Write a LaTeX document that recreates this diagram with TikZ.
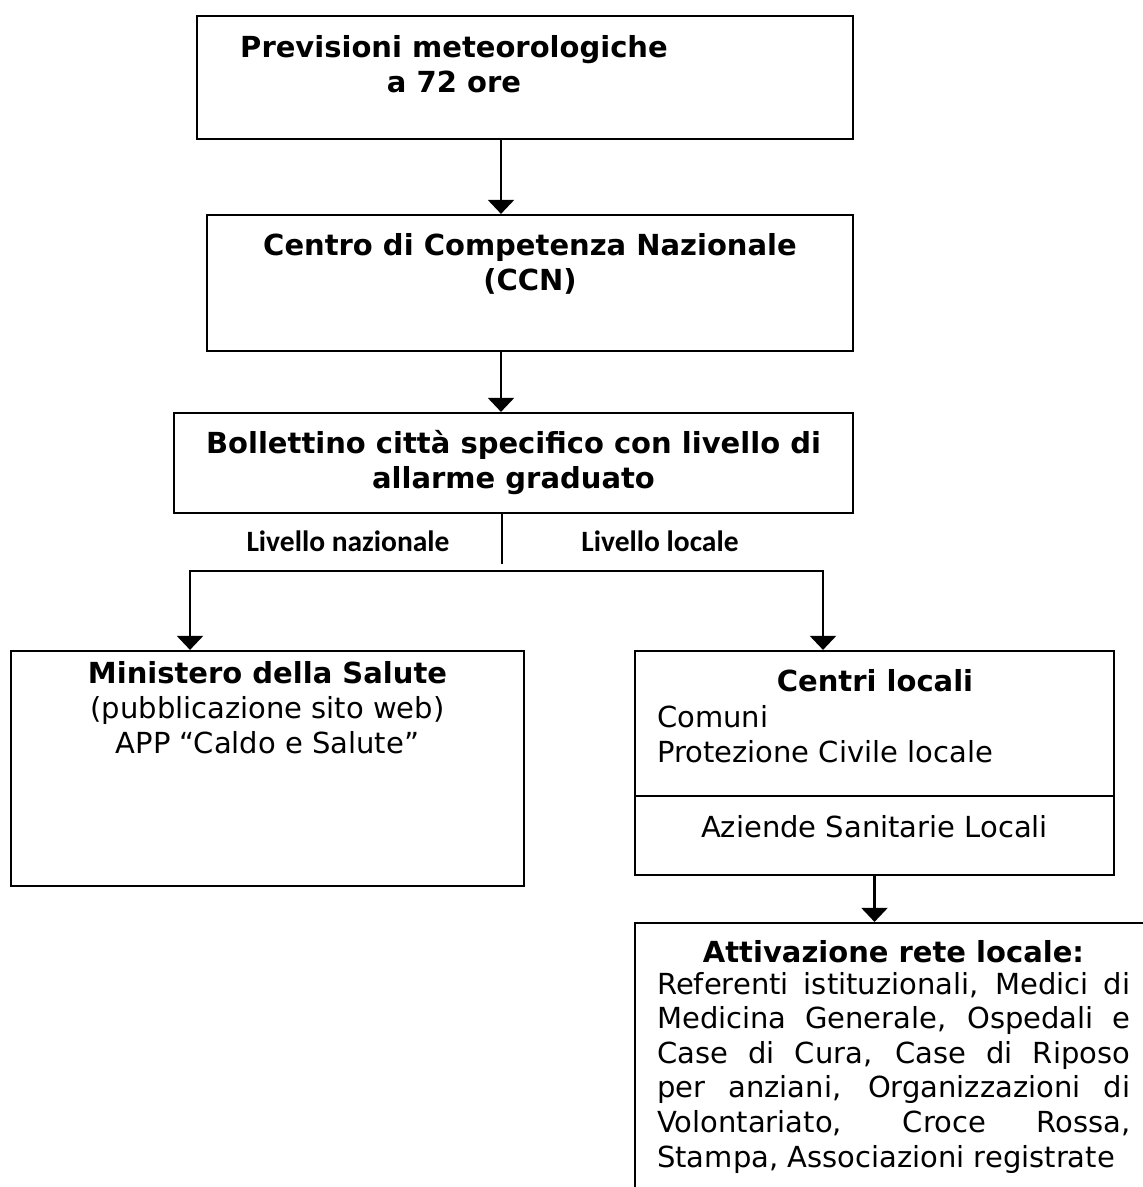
\documentclass[tikz,border=0pt]{standalone}
\usepackage{fontspec}
\setmainfont{DejaVu Sans}
\newfontfamily\lvlfont{Carlito}
\usetikzlibrary{arrows.meta}

\begin{document}
\begin{tikzpicture}[x=1pt,y=-1pt]
\tikzstyle{frame}=[rectangle, draw=black, line width=2.2pt, inner sep=0pt]
\tikzstyle{connect}=[-{Triangle[width=26pt,length=14pt]}, line width=2.2pt]
\tikzstyle{fork}=[{Triangle[width=26pt,length=14pt]}-{Triangle[width=26pt,length=14pt]}, line width=2.2pt]
\tikzstyle{txt}=[inner sep=0pt, align=center, font=\fontsize{29}{35}\selectfont]
\tikzstyle{head}=[txt, font=\fontsize{29}{35}\selectfont\bfseries]
\tikzstyle{lvl}=[inner sep=0pt, font=\lvlfont\bfseries\fontsize{29.5}{35}\selectfont]
  \useasboundingbox (0,0) rectangle (1143,1187);
  \clip (0,0) rectangle (1143,1187);
  % forecast
  \node[frame, minimum width=656pt, minimum height=123pt] (meteo) at (525,77.5) {};
  \node[head, anchor=base] (meteoT) at (454,92) {Previsioni meteorologiche\\a 72 ore};
  % national centre
  \node[frame, minimum width=646pt, minimum height=136pt] (ccn) at (530,283) {};
  \node[head, anchor=base] (ccnT) at (530,290) {Centro di Competenza Nazionale\\(CCN)};
  % bulletin
  \node[frame, minimum width=679pt, minimum height=100pt] (boll) at (513.5,463) {};
  \node[head, anchor=base] (bollT) at (513.5,488) {Bollettino città specifico con livello di\\allarme graduato};
  % levels
  \node[lvl, anchor=base] (naz) at (348,551) {Livello nazionale};
  \node[lvl, anchor=base] (loc) at (660,551) {Livello locale};
  % ministry
  \node[frame, minimum width=513pt, minimum height=235pt] (min) at (267.5,768.5) {};
  \node[txt, anchor=base] (minT) at (267.5,753) {\textbf{Ministero della Salute}\\(pubblicazione sito web)\\APP “Caldo e Salute”};
  % local centres
  \node[frame, minimum width=479pt, minimum height=145pt] (centri) at (874.5,723.5) {};
  \node[head, anchor=base] (centriT) at (875,691) {Centri locali};
  \node[txt, anchor=base west, align=left] (centriL) at (657,762) {Comuni\\Protezione Civile locale};
  \node[frame, minimum width=479pt, minimum height=79pt] (asl) at (874.5,835.5) {};
  \node[txt, anchor=base] (aslT) at (874.5,837) {Aziende Sanitarie Locali};
  % local network
  \node[frame, minimum width=525pt, minimum height=287pt] (rete) at (897.5,1066.5) {};
  \node[head, anchor=base] (reteT) at (893.5,962) {Attivazione rete locale:};
  \node[txt, anchor=base west, align=left, font=\fontsize{29}{34.6}\selectfont] (reteL) at (657,1167) {\makebox[473pt][s]{Referenti istituzionali, Medici di}\\
    \makebox[473pt][s]{Medicina Generale, Ospedali e}\\
    \makebox[473pt][s]{Case di Cura, Case di Riposo}\\
    \makebox[473pt][s]{per anziani, Organizzazioni di}\\
    \makebox[473pt][s]{Volontariato, Croce Rossa,}\\
    Stampa, Associazioni registrate};
  \coordinate (spine) at (501,0);
  \coordinate (stem) at (502,564);
  \coordinate (lft) at (190,571);
  \coordinate (rgt) at (823,571);
  \draw[connect] (meteo.south -| spine) -- (ccn.north -| spine);
  \draw[connect] (ccn.south -| spine) -- (boll.north -| spine);
  \draw[line width=2.2pt] (boll.south -| stem) -- (stem);
  \draw[fork] (lft |- min.north) -- (lft) -- (rgt) -- (rgt |- centri.north);
  \draw[connect] (asl.south) -- (asl.south |- rete.north);
\end{tikzpicture}
\end{document}
